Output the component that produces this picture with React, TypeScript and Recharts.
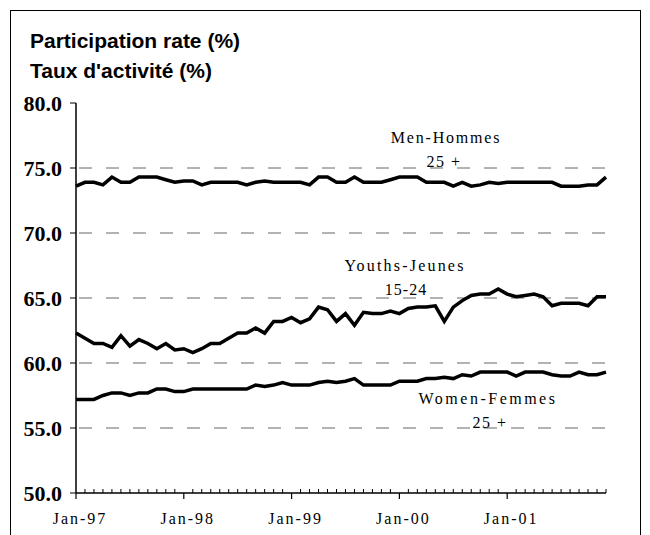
import React from 'react';
import { LineChart, Line, XAxis, YAxis, ReferenceLine } from 'recharts';

// categories: Jan-97 .. Dec-01, monthly
const years = ['97', '98', '99', '00', '01'];
const monthNames = ['Jan', 'Feb', 'Mar', 'Apr', 'May', 'Jun', 'Jul', 'Aug', 'Sep', 'Oct', 'Nov', 'Dec'];
const months = years.flatMap(y => monthNames.map(m => `${m}-${y}`));

const men = [
  73.6, 73.9, 73.9, 73.7, 74.3, 73.9, 73.9, 74.3, 74.3, 74.3, 74.1, 73.9,
  74.0, 74.0, 73.7, 73.9, 73.9, 73.9, 73.9, 73.7, 73.9, 74.0, 73.9, 73.9,
  73.9, 73.9, 73.7, 74.3, 74.3, 73.9, 73.9, 74.3, 73.9, 73.9, 73.9, 74.1,
  74.3, 74.3, 74.3, 73.9, 73.9, 73.9, 73.6, 73.9, 73.6, 73.7, 73.9, 73.8,
  73.9, 73.9, 73.9, 73.9, 73.9, 73.9, 73.6, 73.6, 73.6, 73.7, 73.7, 74.3,
];

const youths = [
  62.3, 61.9, 61.5, 61.5, 61.2, 62.1, 61.3, 61.8, 61.5, 61.1, 61.5, 61.0,
  61.1, 60.8, 61.1, 61.5, 61.5, 61.9, 62.3, 62.3, 62.7, 62.3, 63.2, 63.2,
  63.5, 63.1, 63.4, 64.3, 64.1, 63.2, 63.8, 62.9, 63.9, 63.8, 63.8, 64.0,
  63.8, 64.2, 64.3, 64.3, 64.4, 63.2, 64.3, 64.8, 65.2, 65.3, 65.3, 65.7,
  65.3, 65.1, 65.2, 65.3, 65.1, 64.4, 64.6, 64.6, 64.6, 64.4, 65.1, 65.1,
];

const women = [
  57.2, 57.2, 57.2, 57.5, 57.7, 57.7, 57.5, 57.7, 57.7, 58.0, 58.0, 57.8,
  57.8, 58.0, 58.0, 58.0, 58.0, 58.0, 58.0, 58.0, 58.3, 58.2, 58.3, 58.5,
  58.3, 58.3, 58.3, 58.5, 58.6, 58.5, 58.6, 58.8, 58.3, 58.3, 58.3, 58.3,
  58.6, 58.6, 58.6, 58.8, 58.8, 58.9, 58.8, 59.1, 59.0, 59.3, 59.3, 59.3,
  59.3, 59.0, 59.3, 59.3, 59.3, 59.1, 59.0, 59.0, 59.3, 59.1, 59.1, 59.3,
];

const yTicks = [50, 55, 60, 65, 70, 75, 80];
const gridValues = [55, 60, 65, 70, 75];
const xTickLabels = ['Jan-97', 'Jan-98', 'Jan-99', 'Jan-00', 'Jan-01'];

const data = months.map((m, i) => ({ month: m, men: men[i], youths: youths[i], women: women[i] }));

const serif = '"Liberation Serif", "Times New Roman", serif';

// monthly minor ticks pointing up, yearly major ticks pointing down with label
const MonthTick = (props: any) => {
  const { x, y, payload } = props;
  const idx = payload.index;
  const isMajor = idx % 12 === 0;
  const label = isMajor ? xTickLabels[idx / 12] : null;
  return (
    <g>
      {isMajor ? (
        <line x1={x} y1={y} x2={x} y2={y + 6} stroke="#000" strokeWidth={1.2} />
      ) : (
        <line x1={x} y1={y} x2={x} y2={y - 4} stroke="#000" strokeWidth={1} />
      )}
      {label && (
        <text x={x + 4} y={y + 31} textAnchor="middle" fontFamily={serif} fontSize={16} letterSpacing={2} fill="#000">
          {label}
        </text>
      )}
    </g>
  );
};

const App = () => {
  return (
    <div style={{ position: 'absolute', left: 0, top: 0, width: 650, height: 535, overflow: 'hidden', background: '#fff' }}>
      <div style={{ position: 'absolute', left: 10, top: 10, width: 631, height: 600, border: '1.5px solid #000', boxSizing: 'border-box' }} />
      <div style={{ position: 'absolute', left: 0, top: 0 }}>
        <LineChart width={650} height={535} data={data} margin={{ top: 103, right: 44, bottom: 0, left: 0 }}>
          <XAxis
            dataKey="month"
            interval={0}
            tickSize={0}
            tickMargin={0}
            height={42}
            tickLine={false}
            axisLine={{ stroke: '#000', strokeWidth: 1.5 }}
            tick={<MonthTick />}
            padding={{ left: 0, right: 0 }}
          />
          <YAxis
            domain={[50, 80]}
            ticks={yTicks}
            width={76}
            tickSize={6}
            tickMargin={8}
            interval={0}
            axisLine={{ stroke: '#000', strokeWidth: 1.5 }}
            tickLine={{ stroke: '#000' }}
            tickFormatter={(v: number) => v.toFixed(1)}
            tick={{ fontFamily: serif, fontSize: 22, fontWeight: 'bold', fill: '#000' }}
          />
          {gridValues.map(v => (
            <ReferenceLine key={v} y={v} stroke="#666" strokeWidth={1} strokeDasharray="13 14" strokeDashoffset={-3} />
          ))}
          <Line type="linear" dataKey="men" stroke="#000" strokeWidth={3.5} dot={false} isAnimationActive={false} />
          <Line type="linear" dataKey="youths" stroke="#000" strokeWidth={3.5} dot={false} isAnimationActive={false} />
          <Line type="linear" dataKey="women" stroke="#000" strokeWidth={3.5} dot={false} isAnimationActive={false} />
        </LineChart>
      </div>
      <svg width={650} height={535} style={{ position: 'absolute', left: 0, top: 0, pointerEvents: 'none' }}>
        <g fontFamily='"Liberation Sans", Arial, sans-serif' fontWeight="bold" fontSize={21} fill="#000">
          <text x={30} y={48}>Participation rate (%)</text>
          <text x={30} y={78}>Taux d'activité (%)</text>
        </g>
        <g fontFamily={serif} fontSize={16} fill="#000" textAnchor="middle">
          <text x={446} y={143} letterSpacing={1.8}>Men-Hommes</text>
          <text x={444} y={167} letterSpacing={1.5}>25 +</text>
          <text x={405} y={271} letterSpacing={2.2}>Youths-Jeunes</text>
          <text x={406} y={295} letterSpacing={1}>15-24</text>
          <text x={488} y={404} letterSpacing={2.5}>Women-Femmes</text>
          <text x={490} y={428} letterSpacing={1.5}>25 +</text>
        </g>
      </svg>
    </div>
  );
};

export default App;
